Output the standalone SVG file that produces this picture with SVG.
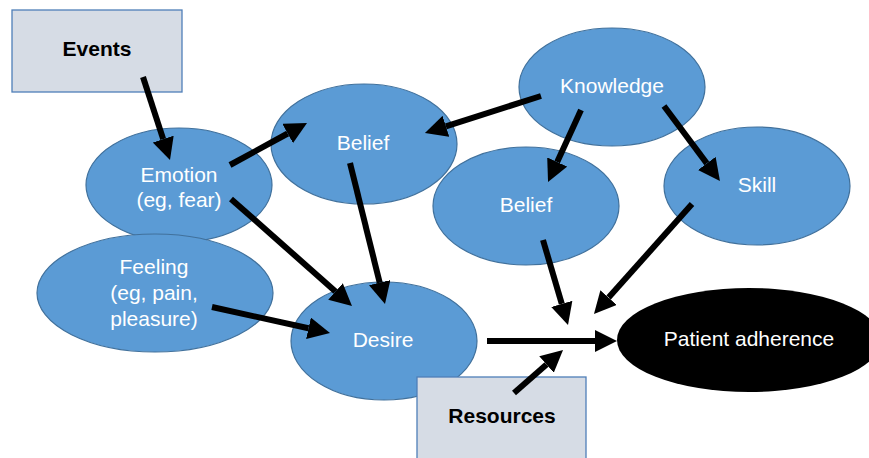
<svg xmlns="http://www.w3.org/2000/svg" width="869" height="458" viewBox="0 0 869 458">
<style>
.box{fill:#d6dce5;stroke:#4f7fb8;stroke-width:1.3}
.ell{fill:#5b9bd5;stroke:#41719c;stroke-width:1.2}
.t{font-family:"Liberation Sans",Arial,sans-serif;font-size:21px;fill:#ffffff;text-anchor:middle}
.b{font-family:"Liberation Sans",Arial,sans-serif;font-size:21px;font-weight:bold;fill:#000000;text-anchor:middle}
.c line{stroke:#000000;stroke-width:6;marker-end:url(#ah)}
</style>
<defs>
<marker id="ah" markerUnits="userSpaceOnUse" viewBox="0 -11 22 22" refX="0" refY="0" markerWidth="22" markerHeight="22" orient="auto">
<path d="M0,-11 L22,0 L0,11 z" fill="#000000"/>
</marker>
</defs>
<rect width="869" height="458" fill="#ffffff"/>
<g id="events"><rect class="box" x="12" y="10" width="170" height="82"/><text class="b" x="97" y="56">Events</text></g>
<g id="emotion"><ellipse class="ell" cx="179" cy="185" rx="93" ry="57"/><text class="t" x="179" y="182">Emotion</text><text class="t" x="179" y="207">(eg, fear)</text></g>
<g id="feeling"><ellipse class="ell" cx="155" cy="293" rx="118" ry="59"/><text class="t" x="154" y="274">Feeling</text><text class="t" x="154" y="300">(eg, pain,</text><text class="t" x="154" y="326">pleasure)</text></g>
<g id="belief1"><ellipse class="ell" cx="364" cy="144" rx="93" ry="60"/><text class="t" x="363" y="150">Belief</text></g>
<g id="knowledge"><ellipse class="ell" cx="612" cy="87" rx="93" ry="59"/><text class="t" x="612" y="93">Knowledge</text></g>
<g id="belief2"><ellipse class="ell" cx="526" cy="206" rx="93" ry="59"/><text class="t" x="526" y="212">Belief</text></g>
<g id="skill"><ellipse class="ell" cx="757" cy="186" rx="93" ry="59"/><text class="t" x="757" y="192">Skill</text></g>
<g id="desire"><ellipse class="ell" cx="384" cy="341" rx="93" ry="59"/><text class="t" x="383" y="347">Desire</text></g>
<g id="patient"><ellipse cx="749" cy="340" rx="132" ry="52" fill="#000000"/><text class="t" x="749" y="346">Patient adherence</text></g>
<g id="resources"><rect class="box" x="417" y="377" width="169" height="95"/><text class="b" x="502" y="423">Resources</text></g>
<g id="connectors" class="c">
<line x1="143" y1="77" x2="163.2" y2="139.1"/>
<line x1="230" y1="165" x2="287.7" y2="133.5"/>
<line x1="231" y1="199" x2="335.5" y2="291.4"/>
<line x1="350" y1="163" x2="379.7" y2="282.7"/>
<line x1="212" y1="307" x2="308.5" y2="328.3"/>
<line x1="541" y1="96" x2="445.9" y2="126.3"/>
<line x1="581" y1="110" x2="557.2" y2="162"/>
<line x1="664" y1="106" x2="706.8" y2="163.4"/>
<line x1="543" y1="240" x2="561.8" y2="303.9"/>
<line x1="692" y1="204" x2="608.6" y2="297.6"/>
<line x1="487" y1="341" x2="595" y2="341"/>
<line x1="514" y1="393" x2="546.5" y2="364.5"/>
</g>
</svg>
